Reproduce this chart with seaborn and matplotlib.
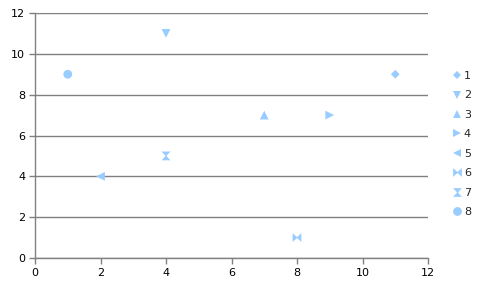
import matplotlib
matplotlib.use("Agg")
import matplotlib.pyplot as plt
import seaborn as sns
import pandas as pd
import numpy as np
from matplotlib.path import Path

series = ["1", "2", "3", "4", "5", "6", "7", "8"]
x_vals = [11, 4, 7, 9, 2, 8, 4, 1]
y_vals = [9, 11, 7, 7, 4, 1, 5, 9]

df = pd.DataFrame({"x": x_vals, "y": y_vals, "series": series})

sns.set_theme(style="white")
plt.rcParams["font.family"] = ["DejaVu Sans"]

bowtie = Path([(-1, -1), (-1, 1), (0, 0.1), (1, 1), (1, -1), (0, -0.1), (-1, -1)],
              [Path.MOVETO] + [Path.LINETO] * 5 + [Path.CLOSEPOLY])
hourglass = Path([(-1, 1), (1, 1), (0.1, 0), (1, -1), (-1, -1), (-0.1, 0), (-1, 1)],
                 [Path.MOVETO] + [Path.LINETO] * 5 + [Path.CLOSEPOLY])
marker_map = {"1": "D", "2": "v", "3": "^", "4": ">", "5": "<",
              "6": bowtie, "7": hourglass, "8": "o"}
size_map = {"1": 20, "2": 40, "3": 40, "4": 40, "5": 40, "6": 40, "7": 40, "8": 40}
color = "#99CCFF"

fig = plt.figure(figsize=(4.82, 2.88), dpi=100)
ax = fig.add_axes([35 / 482, 30 / 288, 393 / 482, 245 / 288])

sns.scatterplot(data=df, x="x", y="y", hue="series", style="series",
                palette={s: color for s in series}, markers=marker_map,
                s=40, linewidth=0, ax=ax, legend=True)
ax.collections[0].set_sizes(np.array([size_map[s] for s in df["series"]]))

handles, labels = ax.get_legend_handles_labels()
for h, l in zip(handles, labels):
    try:
        h.set_markersize(np.sqrt(size_map[l]))
    except Exception:
        pass
ax.get_legend().remove()
fig.legend(handles, labels, loc="center left", bbox_to_anchor=(446 / 482, 1 - 144 / 288),
           frameon=False, fontsize=8, handletextpad=0.0, labelspacing=0.85,
           borderaxespad=0, handlelength=1.2)

ax.set_xlim(0, 12)
ax.set_ylim(0, 12)
ax.set_xticks(range(0, 13, 2))
ax.set_yticks(range(0, 13, 2))
ax.set_xlabel("")
ax.set_ylabel("")
ax.yaxis.grid(True, color="#808080", linewidth=1)
ax.xaxis.grid(False)
ax.set_axisbelow(True)
for sp in ["top", "right"]:
    ax.spines[sp].set_visible(False)
for sp in ["left", "bottom"]:
    ax.spines[sp].set_color("#808080")
    ax.spines[sp].set_linewidth(1)
ax.tick_params(axis="both", which="both", direction="out", length=4, width=1,
               color="#808080", labelsize=8, labelcolor="black", pad=3,
               bottom=True, left=True)

fig.savefig("out.png", dpi=100)
